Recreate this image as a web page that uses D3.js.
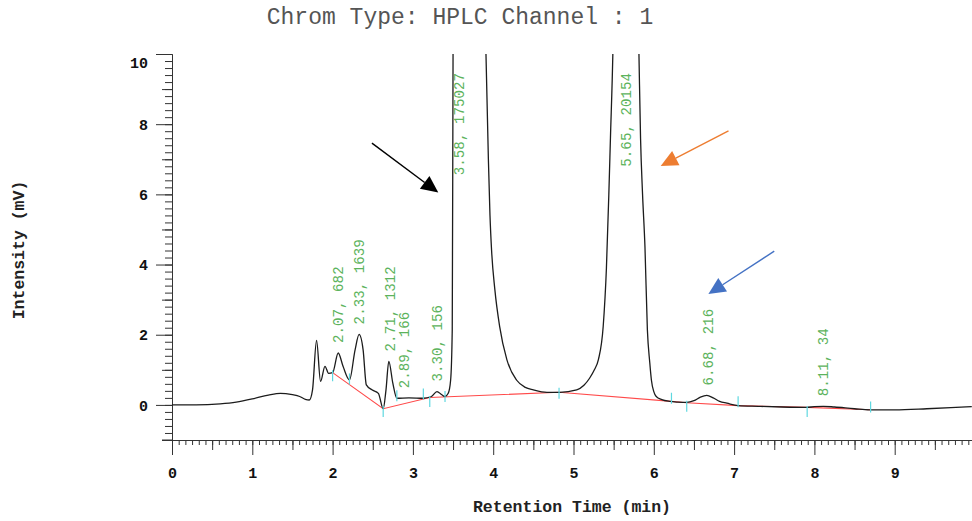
<!DOCTYPE html>
<html><head><meta charset="utf-8">
<script src="https://cdn.jsdelivr.net/npm/d3@7"></script>
<style>body{margin:0;background:#fff}svg{display:block}</style>
</head><body><svg id="c" width="972" height="521"></svg>
<script>
// ---- data ----
const traceTime = [0,0.3,0.6,0.8,1.0,1.2,1.35,1.5,1.59,1.66,1.71,1.75,1.80,1.85,1.905,1.95,2.0,2.07,2.13,2.21,2.28,2.33,2.38,2.42,2.49,2.57,2.63,2.665,2.70,2.75,2.80,2.95,3.13,3.23,3.30,3.36,3.40,3.44,3.47,3.49,3.50,3.52,3.70,3.88,3.91,3.94,3.96,3.98,4.02,4.08,4.17,4.29,4.40,4.50,4.67,4.83,5.04,5.13,5.20,5.26,5.31,5.37,5.41,5.44,5.46,5.49,5.52,5.65,5.78,5.815,5.835,5.86,5.89,5.92,5.95,5.97,6.0,6.03,6.1,6.2,6.3,6.41,6.5,6.58,6.66,6.74,6.82,6.91,7.05,7.3,7.6,7.9,8.0,8.11,8.25,8.5,8.69,9.0,9.4,9.7,9.96];
const traceIntensity = [0,0.0,0.03,0.08,0.17,0.28,0.33,0.29,0.24,0.16,0.14,0.43,1.84,0.67,1.1,0.9,0.92,1.48,1.1,0.71,1.57,2.01,1.57,0.57,0.43,0.33,-0.11,0.43,1.24,0.62,0.19,0.2,0.19,0.24,0.38,0.29,0.24,0.33,0.71,2.14,10.0,16,40,14,10,7.0,5.4,4.4,3.3,2.24,1.29,0.71,0.5,0.43,0.36,0.36,0.43,0.56,0.76,1.0,1.29,2.24,3.9,6.0,7.6,10,14,30,14,10,7.6,6.0,4.5,2.14,1.2,0.71,0.38,0.24,0.15,0.1,0.08,0.07,0.12,0.22,0.27,0.2,0.1,0.05,-0.02,-0.04,-0.06,-0.07,-0.05,-0.04,-0.06,-0.11,-0.14,-0.14,-0.11,-0.08,-0.05];

const baselineTime = [2.0,2.63,3.21,4.82,6.22,6.41,7.05,7.91,8.70];
const baselineIntensity = [0.92,-0.11,0.21,0.36,0.10,0.06,-0.02,-0.07,-0.14];

const markerTime = [2.0,2.21,2.63,2.80,3.13,3.21,3.40,4.82,6.22,6.41,7.05,7.91,8.70];
const markerIntensity = [0.83,0.74,-0.19,0.26,0.31,0.10,0.24,0.33,0.19,-0.04,0.09,-0.19,-0.06];

const peakRT = [2.07,2.33,2.71,2.89,3.30,3.58,5.65,6.68,8.11];
const peakArea = [682,1639,1312,166,156,175027,20154,216,34];
const peakApex = [1.48,2.01,1.24,0.19,0.38,Infinity,Infinity,0.27,-0.04];

const xTickLabels = [0,1,2,3,4,5,6,7,8,9];
const yTickLabels = [0,2,4,6,8,10];

const arrowFromT = [2.49,6.93,7.50];
const arrowFromV = [7.46,7.81,4.38];
const arrowToT = [3.316,6.086,6.68];
const arrowToV = [6.05,6.81,3.16];
const arrowColor = ["#000000","#ED7D31","#4472C4"];

const titleText = "Chrom Type: HPLC Channel : 1";
const xTitle = "Retention Time (min)";
const yTitle = "Intensity (mV)";

// ---- drawing ----
const svg = d3.select("#c");
const FONT = "'Liberation Mono','Courier New',monospace";
const x = d3.scaleLinear().domain([0,10]).range([172,975]);
const y = d3.scaleLinear().domain([-1,10]).range([440,54]);

svg.append("defs").append("clipPath").attr("id","plot")
  .append("rect").attr("x",x(0)).attr("y",y(10)).attr("width",x(10)-x(0)).attr("height",y(-1)-y(10));

// title
svg.append("text").attr("x",460).attr("y",24).attr("text-anchor","middle")
  .attr("font-family",FONT).attr("font-size",23).attr("fill","#555").text(titleText);

// X axis
const xMinor = d3.range(0,120).map(i=>i/12).filter(v=>v<=9.97);
const xMid = d3.range(0,10).map(i=>i+0.5);
const gx = svg.append("g").attr("transform",`translate(0,${y(-1)})`);
gx.append("g").call(d3.axisBottom(x).tickValues(xMinor).tickSize(5).tickFormat("").tickSizeOuter(0));
gx.append("g").call(d3.axisBottom(x).tickValues(xMid).tickSize(10).tickFormat("").tickSizeOuter(0));
gx.append("g").call(d3.axisBottom(x).tickValues(xTickLabels).tickSize(15).tickPadding(12).tickSizeOuter(0).tickFormat(d3.format("d")));
gx.selectAll("path.domain").attr("stroke","#333");
gx.append("line").attr("x1",162).attr("x2",x(0)).attr("y1",0).attr("y2",0).attr("stroke","#333");
gx.selectAll("line").attr("stroke","#333");
gx.selectAll("text").attr("font-family",FONT).attr("font-size",15).attr("font-weight","bold").attr("fill","#111");

// Y axis
const yMinor = d3.range(-5,51).map(i=>i/5);
const yMid = [-1,1,3,5,7,9];
const gy = svg.append("g").attr("transform",`translate(${x(0)},0)`);
gy.append("g").call(d3.axisLeft(y).tickValues(yMinor).tickSize(7).tickFormat("").tickSizeOuter(0));
gy.append("g").call(d3.axisLeft(y).tickValues(yMid).tickSize(10).tickFormat("").tickSizeOuter(0));
gy.append("g").call(d3.axisLeft(y).tickValues(yTickLabels).tickSize(16).tickPadding(8).tickSizeOuter(0).tickFormat(d3.format("d")));
gy.selectAll("path.domain").attr("stroke","#333");
gy.selectAll("line").attr("stroke","#333");
gy.selectAll("text").attr("font-family",FONT).attr("font-size",15).attr("font-weight","bold").attr("fill","#111")
  .attr("dy",d=> d===10 ? "0.9em" : "0.35em");

// axis titles
svg.append("text").attr("x",572).attr("y",512).attr("text-anchor","middle")
  .attr("font-family",FONT).attr("font-size",16.5).attr("font-weight","bold").attr("fill","#222").text(xTitle);
svg.append("text").attr("transform","translate(18,250) rotate(-90)").attr("text-anchor","middle").attr("dy","0.35em")
  .attr("font-family",FONT).attr("font-size",16.5).attr("font-weight","bold").attr("fill","#222").text(yTitle);

const plot = svg.append("g").attr("clip-path","url(#plot)");

// baseline (red)
const baseData = baselineTime.map((t,i)=>[t,baselineIntensity[i]]);
plot.append("path").datum(baseData)
  .attr("d",d3.line().x(d=>x(d[0])).y(d=>y(d[1])))
  .attr("fill","none").attr("stroke","#ff4a4a").attr("stroke-width",1.1);

// trace
const traceData = traceTime.map((t,i)=>[t,traceIntensity[i]]);
plot.append("path").datum(traceData)
  .attr("d",d3.line().curve(d3.curveMonotoneX).x(d=>x(d[0])).y(d=>y(d[1])))
  .attr("fill","none").attr("stroke","#1c1c1c").attr("stroke-width",1.3);

// peak markers (cyan)
plot.selectAll("line.mk").data(markerTime).join("line").attr("class","mk")
  .attr("x1",d=>x(d)).attr("x2",d=>x(d))
  .attr("y1",(d,i)=>y(markerIntensity[i])-5.5).attr("y2",(d,i)=>y(markerIntensity[i])+5.5)
  .attr("stroke","#5fd8e0").attr("stroke-width",1.2);

// peak labels
svg.selectAll("text.pk").data(peakRT).join("text").attr("class","pk")
  .attr("transform",(d,i)=>{
    const off = !isFinite(peakApex[i]);
    const yy = off ? y(10)+19 : y(peakApex[i]) - 10;
    return `translate(${x(d)},${yy}) rotate(-90)`;
  })
  .attr("text-anchor",(d,i)=> isFinite(peakApex[i]) ? "start" : "end")
  .attr("dy","0.35em")
  .attr("font-family",FONT).attr("font-size",14.2).attr("fill","#5cb35c")
  .text((d,i)=>`${d.toFixed(2)}, ${peakArea[i]}`);

// arrows
arrowFromT.forEach((t,i)=>{
  const x1=x(t), y1=y(arrowFromV[i]), x2=x(arrowToT[i]), y2=y(arrowToV[i]);
  const a=Math.atan2(y2-y1,x2-x1), L=17, W=8;
  const bx=x2-L*Math.cos(a), by=y2-L*Math.sin(a);
  svg.append("line").attr("x1",x1).attr("y1",y1).attr("x2",bx).attr("y2",by)
    .attr("stroke",arrowColor[i]).attr("stroke-width",1.4);
  const p=[[x2,y2],[bx+W*Math.sin(a),by-W*Math.cos(a)],[bx-W*Math.sin(a),by+W*Math.cos(a)]];
  svg.append("polygon").attr("points",p.map(q=>q.join(",")).join(" ")).attr("fill",arrowColor[i]);
});
</script></body></html>
